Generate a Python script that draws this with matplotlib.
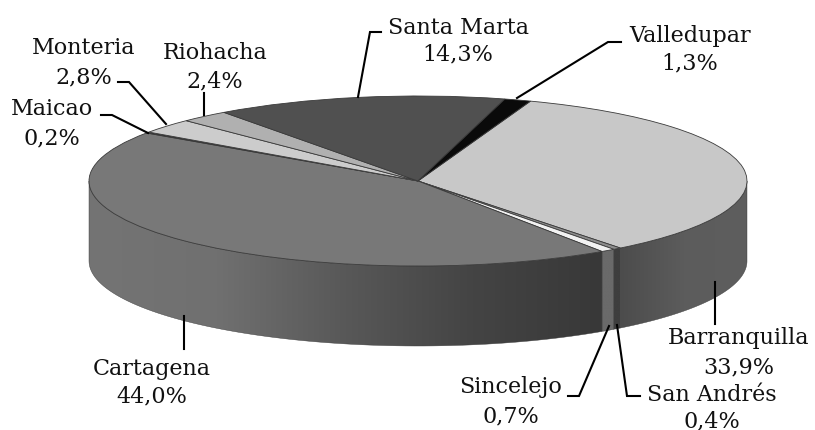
import numpy as np
import matplotlib
matplotlib.use('Agg')
import matplotlib.pyplot as plt
from matplotlib.patches import Polygon
from matplotlib.colors import LinearSegmentedColormap

cities = ['Barranquilla', 'San Andrés', 'Sincelejo', 'Cartagena', 'Maicao',
          'Monteria', 'Riohacha', 'Santa Marta', 'Valledupar']
shares = [33.9, 0.4, 0.7, 44.0, 0.2, 2.8, 2.4, 14.3, 1.3]
shares_txt = ['33,9%', '0,4%', '0,7%', '44,0%', '0,2%', '2,8%', '2,4%', '14,3%', '1,3%']
top_colors = ['#c8c8c8', '#8c8c8c', '#f2f2f2', '#787878', '#2e2e2e',
              '#cccccc', '#b0b0b0', '#505050', '#0a0a0a']
wall_colors = [['#4c4c4c', '#5c5c5c', '#5e5e5e'], ['#3e3e3e', '#3e3e3e'],
               ['#6a6a6a', '#6a6a6a'], ['#747474', '#707070', '#585858', '#444444', '#383838'],
               None, None, None, None, None]

# label centres and leader lines, in image pixels
label_xy = {'Barranquilla': (739, 338, 367), 'San Andrés': (712, 395, 421),
            'Sincelejo': (511, 387, 416), 'Cartagena': (152, 369, 396),
            'Maicao': (52, 109, 138), 'Monteria': (84, 48, 77),
            'Riohacha': (215, 53, 81), 'Santa Marta': (458, 28, 54),
            'Valledupar': (690, 36, 63)}
leaders = [[(715, 283), (715, 325)],
           [(640, 397), (627, 397), (617, 326)],
           [(568, 397), (579, 397), (609, 327)],
           [(184, 317), (184, 350)],
           [(101, 116), (112, 116), (148, 134)],
           [(118, 83), (129, 83), (166, 125)],
           [(204, 94), (204, 116)],
           [(381, 33), (370, 33), (358, 98)],
           [(621, 43), (608, 43), (517, 99)]]

W, H = 815, 431
cx, cy, rx, ry = 418, 182, 329, 85
depth = 80 / ry
start = 70

fig = plt.figure(figsize=(W / 100, H / 100), dpi=100)
ax = fig.add_axes([0, 0, 1, 1])
ax.pie(shares, colors=top_colors, startangle=start, counterclock=False, radius=1,
       wedgeprops={'edgecolor': '#3a3a3a', 'linewidth': 0.6, 'zorder': 5})
xlim = ((0 - cx) / rx, (W - cx) / rx)
ylim = ((cy - H) / ry, cy / ry)

# side wall, only the part facing front
ends = start - np.cumsum(shares) * 3.6
begins = np.r_[start, ends[:-1]]
for a0, a1, cols in zip(begins, ends, wall_colors):
    if cols is None:
        continue
    a0, a1 = min(a0, 0), max(a1, -180)
    t = np.radians(np.linspace(a0, a1, 80))
    x, y = np.cos(t), np.sin(t)
    pts = np.c_[np.r_[x, x[::-1]], np.r_[y, y[::-1] - depth]]
    poly = Polygon(pts, closed=True, fc='none', ec='#3a3a3a', lw=0.3, zorder=3)
    ax.add_patch(poly)
    cmap = LinearSegmentedColormap.from_list('wall', cols)
    grad = np.linspace(0, 1, 256).reshape(1, -1)
    im = ax.imshow(grad, cmap=cmap, aspect='auto', zorder=2, interpolation='bilinear',
                   extent=(x.min(), x.max(), (y - depth).min(), y.max()))
    im.set_clip_path(poly)
ax.set_xlim(xlim)
ax.set_ylim(ylim)
ax.set_aspect('auto')

# overlay in pixels for labels
ov = fig.add_axes([0, 0, 1, 1])
ov.set_xlim(0, W)
ov.set_ylim(H, 0)
ov.axis('off')
for city, pct, line in zip(cities, shares_txt, leaders):
    lx, ly1, ly2 = label_xy[city]
    ov.text(lx, ly1, city, ha='center', va='center', family='DejaVu Serif', fontsize=16, color='#111111')
    ov.text(lx, ly2, pct, ha='center', va='center', family='DejaVu Serif', fontsize=16, color='#111111')
    xs, ys = zip(*line)
    ov.plot(xs, ys, color='black', lw=1.5, solid_joinstyle='miter')

fig.savefig('out.png', dpi=100)
